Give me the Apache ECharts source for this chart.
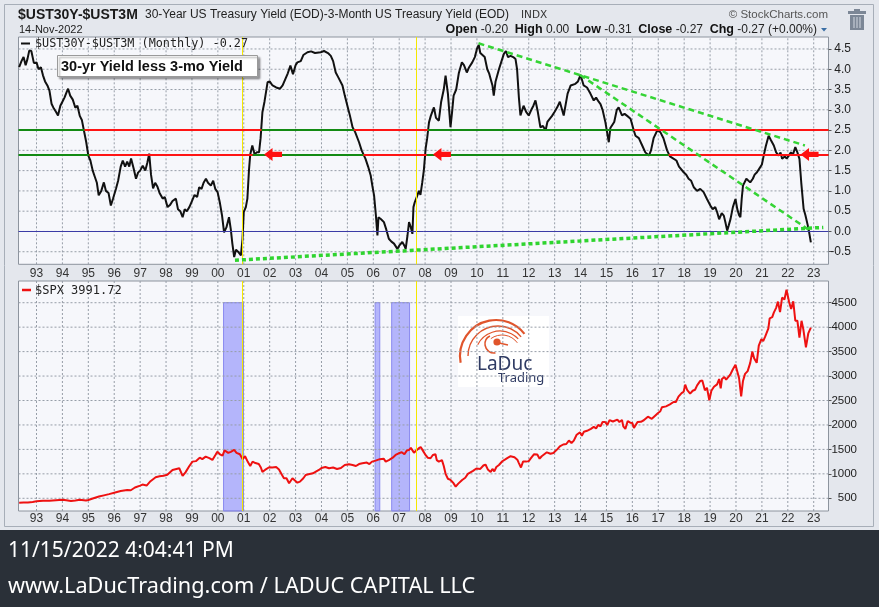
<!DOCTYPE html>
<html><head><meta charset="utf-8">
<script src="https://cdn.jsdelivr.net/npm/echarts@6/dist/echarts.min.js"></script>
<style>html,body{margin:0;padding:0;background:#e4e7ed;}#c{width:879px;height:607px;}</style>
</head><body><div id="c"></div>
<script>
// ---------------- data ----------------
const yearTicks = [1993,1994,1995,1996,1997,1998,1999,2000,2001,2002,2003,2004,2005,2006,2007,2008,2009,2010,2011,2012,2013,2014,2015,2016,2017,2018,2019,2020,2021,2022,2023];
const spreadTicks = [-0.5,0,0.5,1,1.5,2,2.5,3,3.5,4,4.5];
const spxTicks = [500,1000,1500,2000,2500,3000,3500,4000,4500];

const spreadDates = [1992.33,1992.42,1992.5,1992.58,1992.65,1992.72,1992.8,1992.9,1993.0,1993.08,1993.17,1993.25,1993.33,1993.42,1993.5,1993.58,1993.67,1993.75,1993.83,1993.92,
1994.0,1994.08,1994.17,1994.22,1994.3,1994.4,1994.5,1994.58,1994.67,1994.75,1994.83,1994.92,1995.0,1995.08,1995.17,1995.25,1995.33,1995.4,1995.5,1995.6,1995.68,1995.78,1995.87,1995.95,
1996.07,1996.15,1996.25,1996.33,1996.42,1996.5,1996.58,1996.65,1996.75,1996.84,1996.92,1997.0,1997.1,1997.2,1997.28,1997.35,1997.42,1997.5,1997.58,1997.67,1997.75,1997.87,1997.95,
1998.06,1998.15,1998.25,1998.38,1998.46,1998.55,1998.64,1998.72,1998.8,1998.9,1999.0,1999.1,1999.2,1999.28,1999.37,1999.45,1999.54,1999.62,1999.73,1999.82,1999.9,1999.99,
2000.08,2000.16,2000.24,2000.33,2000.43,2000.5,2000.56,2000.63,2000.7,2000.78,2000.89,2000.95,2001.0,2001.08,2001.14,2001.2,2001.25,2001.33,2001.42,2001.5,2001.59,2001.65,2001.72,2001.8,2001.92,
2002.0,2002.11,2002.25,2002.4,2002.5,2002.6,2002.7,2002.8,2002.9,2003.0,2003.07,2003.2,2003.3,2003.46,2003.6,2003.75,2003.97,2004.1,2004.25,2004.36,2004.45,2004.55,2004.65,2004.81,2004.9,
2005.0,2005.1,2005.2,2005.3,2005.45,2005.55,2005.7,2005.8,2005.9,2005.97,2006.03,2006.1,2006.16,2006.2,2006.3,2006.41,2006.5,2006.6,2006.7,2006.8,2006.93,2007.0,2007.12,2007.2,2007.25,
2007.32,2007.38,2007.45,2007.51,2007.55,2007.6,2007.68,2007.76,2007.82,2007.89,2007.95,2008.02,2008.08,2008.15,2008.22,2008.34,2008.42,2008.53,2008.62,2008.72,2008.79,2008.88,2008.98,
2009.05,2009.1,2009.2,2009.3,2009.42,2009.5,2009.61,2009.7,2009.82,2009.92,2010.0,2010.07,2010.13,2010.2,2010.3,2010.4,2010.47,2010.53,2010.6,2010.65,2010.72,2010.85,2010.95,
2011.04,2011.12,2011.2,2011.3,2011.4,2011.49,2011.55,2011.62,2011.68,2011.75,2011.8,2011.9,2012.0,2012.1,2012.18,2012.26,2012.35,2012.45,2012.55,2012.65,2012.72,2012.78,2012.9,
2013.0,2013.1,2013.2,2013.35,2013.5,2013.62,2013.8,2013.9,2014.0,2014.12,2014.25,2014.38,2014.51,2014.6,2014.7,2014.77,2014.85,2014.96,2015.09,2015.15,2015.22,2015.3,2015.4,2015.47,
2015.6,2015.7,2015.8,2015.93,2016.05,2016.12,2016.25,2016.38,2016.5,2016.64,2016.72,2016.82,2016.96,2017.08,2017.2,2017.34,2017.45,2017.6,2017.7,2017.8,2017.98,
2018.08,2018.17,2018.27,2018.37,2018.5,2018.62,2018.75,2018.88,2019.01,2019.1,2019.2,2019.27,2019.35,2019.45,2019.53,2019.6,2019.66,2019.72,2019.79,2019.88,2019.98,
2020.05,2020.12,2020.17,2020.22,2020.27,2020.4,2020.55,2020.65,2020.72,2020.81,2020.9,2021.0,2021.07,2021.15,2021.26,2021.35,2021.46,2021.55,2021.65,2021.72,2021.78,2021.88,2021.96,
2022.04,2022.12,2022.2,2022.29,2022.37,2022.45,2022.52,2022.61,2022.68,2022.74,2022.8,2022.89];
const spreadValues = [4.05,4.2,4.3,4.1,4.25,4.46,4.45,4.15,4.17,4.0,4.05,3.85,3.7,3.6,3.47,3.15,3.03,2.95,2.86,3.1,
3.2,3.3,3.45,3.52,3.35,3.25,3.05,3.1,2.85,2.75,2.49,2.2,1.87,1.75,1.5,1.35,1.2,0.89,1.0,1.21,1.0,0.95,0.64,0.8,
1.06,1.25,1.6,1.75,1.6,1.72,1.6,1.8,1.55,1.3,1.45,1.5,1.62,1.5,1.7,1.92,1.4,1.06,1.2,1.1,0.95,0.81,0.85,
0.6,0.65,0.75,0.81,0.55,0.5,0.35,0.55,0.5,0.6,0.75,0.9,0.85,1.09,1.05,1.2,1.3,1.2,1.13,1.25,1.05,0.97,
0.7,0.4,-0.02,0.1,0.35,0.05,-0.3,-0.63,-0.45,-0.5,-0.59,-0.2,0.48,0.6,0.81,1.5,1.9,2.12,1.9,1.95,1.95,2.3,2.94,3.2,3.68,
3.7,3.6,3.55,3.52,3.6,3.75,3.9,4.09,3.88,4.1,4.17,4.2,4.35,4.42,4.44,4.4,4.42,4.45,4.4,4.33,4.2,3.92,3.8,3.6,3.35,
3.1,2.85,2.57,2.45,2.2,2.0,1.79,1.6,1.38,1.1,0.89,0.4,-0.1,0.35,0.3,0.23,0.05,-0.18,-0.25,-0.3,-0.43,-0.35,-0.26,-0.35,-0.43,
-0.1,0.23,0.1,-0.06,0.6,0.72,0.85,1.0,0.9,1.21,1.5,2.04,2.3,2.69,2.85,3.06,2.8,2.73,3.2,3.5,3.84,3.4,2.57,
3.0,3.35,3.5,3.9,4.17,4.1,3.92,4.05,4.17,4.3,4.5,4.6,4.4,4.42,4.3,4.0,3.9,3.76,3.6,3.35,3.7,4.0,4.2,
4.38,4.45,4.3,4.33,4.3,4.25,4.0,3.3,2.86,3.0,3.1,2.95,2.86,3.0,3.1,3.23,2.95,2.57,2.6,2.49,2.7,2.69,2.85,
2.95,3.06,3.2,2.86,3.4,3.6,3.64,3.7,3.86,3.6,3.55,3.4,3.23,3.3,3.2,3.14,3.0,2.69,2.2,2.55,2.57,2.7,3.0,3.06,
2.86,2.9,2.85,2.78,2.5,2.36,2.3,2.12,1.95,1.87,2.0,2.3,2.49,2.45,2.3,2.0,1.85,1.79,1.75,1.6,1.46,
1.4,1.3,1.25,1.09,1.0,1.05,0.97,0.8,0.64,0.55,0.6,0.48,0.3,0.45,0.39,0.2,0.02,0.15,0.31,0.6,0.8,
0.55,0.4,0.35,0.8,1.13,1.3,1.21,1.3,1.4,1.46,1.55,1.65,1.87,2.1,2.36,2.25,2.12,1.95,1.87,1.95,1.79,1.85,1.8,
1.87,1.95,1.9,2.08,1.95,1.79,1.2,0.56,0.4,0.39,0.07,-0.27];

const spxDates = [1992.33,1992.5,1992.67,1992.85,1993.0,1993.25,1993.5,1993.75,1994.0,1994.15,1994.33,1994.5,1994.67,1994.91,1995.0,1995.2,1995.41,1995.6,1995.8,
1996.07,1996.25,1996.5,1996.64,1996.8,1997.0,1997.09,1997.25,1997.4,1997.6,1997.75,1997.9,1998.05,1998.25,1998.4,1998.51,1998.64,1998.75,1998.9,
1999.02,1999.15,1999.3,1999.4,1999.53,1999.67,1999.79,1999.9,1999.98,2000.08,2000.18,2000.26,2000.4,2000.5,2000.63,2000.72,2000.85,2000.96,
2001.05,2001.16,2001.25,2001.34,2001.45,2001.58,2001.66,2001.72,2001.82,2001.98,2002.1,2002.25,2002.36,2002.45,2002.55,2002.65,2002.75,2002.88,2002.95,
2003.07,2003.17,2003.3,2003.39,2003.5,2003.67,2003.8,2003.9,2004.0,2004.15,2004.29,2004.45,2004.6,2004.75,2004.9,2005.06,2005.2,2005.33,2005.45,2005.58,2005.75,2005.85,2005.95,
2006.09,2006.25,2006.4,2006.48,2006.6,2006.75,2006.86,2006.98,2007.1,2007.2,2007.3,2007.38,2007.45,2007.57,2007.65,2007.75,2007.83,2007.92,
2008.0,2008.1,2008.21,2008.3,2008.4,2008.45,2008.53,2008.65,2008.72,2008.79,2008.88,2008.98,2009.08,2009.18,2009.28,2009.43,2009.55,2009.65,2009.75,2009.85,2009.98,
2010.05,2010.13,2010.25,2010.33,2010.42,2010.53,2010.6,2010.67,2010.75,2010.85,2010.98,2011.08,2011.17,2011.3,2011.45,2011.56,2011.62,2011.7,2011.78,2011.9,
2012.0,2012.07,2012.2,2012.33,2012.42,2012.5,2012.6,2012.7,2012.84,2012.95,2013.1,2013.2,2013.33,2013.45,2013.55,2013.65,2013.74,2013.85,2013.98,
2014.05,2014.13,2014.25,2014.4,2014.51,2014.6,2014.68,2014.77,2014.85,2014.95,2015.03,2015.12,2015.25,2015.42,2015.5,2015.6,2015.65,2015.73,2015.82,2015.92,
2016.0,2016.06,2016.12,2016.2,2016.33,2016.44,2016.5,2016.6,2016.75,2016.82,2016.9,2016.98,2017.08,2017.14,2017.3,2017.45,2017.59,2017.68,2017.78,2017.9,2017.98,
2018.04,2018.12,2018.23,2018.33,2018.42,2018.5,2018.62,2018.7,2018.8,2018.88,2018.97,2019.05,2019.15,2019.27,2019.35,2019.41,2019.46,2019.55,2019.62,2019.7,2019.78,2019.88,2019.98,
2020.05,2020.12,2020.2,2020.27,2020.35,2020.45,2020.55,2020.63,2020.7,2020.8,2020.88,2020.98,2021.05,2021.13,2021.25,2021.3,2021.4,2021.46,2021.55,2021.62,2021.7,2021.78,2021.87,2021.95,
2022.05,2022.13,2022.21,2022.29,2022.37,2022.45,2022.53,2022.6,2022.7,2022.79,2022.89];
const spxValues = [410,415,415,425,438,450,450,460,470,460,445,455,470,455,465,500,535,560,585,
625,650,670,665,720,760,780,760,850,930,950,960,980,1080,1100,1114,960,1030,1160,
1250,1260,1330,1300,1352,1320,1284,1380,1454,1400,1372,1480,1430,1450,1489,1430,1400,1300,
1360,1240,1160,1250,1220,1200,1130,1040,1080,1135,1130,1140,1090,1000,910,910,808,910,880,
820,840,910,977,990,1010,1050,1080,1120,1140,1114,1130,1100,1120,1180,1196,1180,1160,1200,1217,1230,1200,1250,
1270,1300,1310,1250,1280,1330,1386,1420,1440,1400,1480,1489,1530,1434,1470,1520,1549,1470,
1400,1330,1319,1385,1400,1280,1250,1280,1160,1000,900,875,820,738,800,875,920,1000,1030,1060,1110,
1080,1100,1170,1190,1090,1040,1100,1050,1140,1180,1257,1290,1320,1360,1340,1290,1220,1130,1250,1250,
1260,1310,1400,1397,1310,1360,1400,1440,1410,1426,1500,1560,1600,1610,1680,1630,1680,1800,1848,
1780,1860,1880,1920,1960,1930,2000,1970,2060,2060,2000,2100,2070,2110,2060,2100,1970,1920,2080,2047,
2040,1940,1932,2060,2065,2096,2098,2170,2125,2127,2200,2240,2280,2360,2380,2420,2470,2470,2580,2650,2680,
2823,2710,2640,2700,2720,2810,2900,2910,2710,2760,2506,2700,2780,2830,2940,2750,2940,2980,2926,2976,3030,3140,3230,
3225,2954,2584,2900,3044,3100,3270,3500,3363,3270,3620,3756,3714,3811,3973,4181,4204,4297,4395,4522,4307,4605,4567,4766,
4515,4373,4530,4131,4132,3785,4130,3955,3585,3871,3992];

// annotation values
const levelValues = [2.5, 1.9];
const level25Red = [[1994.85, 2001.68], [2005.25, 2008.1], [2016.05, 2023.571]];
const level19Red = [[1995.04, 2001.34], [2005.62, 2008.06], [2017.4, 2023.571]];
const yellowDates = [2000.95, 2007.65];
const shadeRanges = [[2000.22, 2000.99], [2006.07, 2006.25], [2006.71, 2007.40]];
const shadeTop = 4500;
const trendLines = [[[2010.06, 4.64], [2022.66, 2.12]], [[2013.98, 3.86], [2022.86, 0.02]]];
const supportLine = [[2000.66, -0.71], [2023.37, 0.1]];
const arrowDates = [2002.13, 2008.65, 2022.84];
const arrowLevel = 1.9;

// ---------------- chart ----------------
const X_MIN = 1992.305, X_MAX = 2023.571;
const TOP_MIN = -0.81, TOP_MAX = 4.795;
const SPX_MIN = 240, SPX_MAX = 4944;

const chart = echarts.init(document.getElementById('c'));
const GRID_BG = '#f6f7fb', GRID_BORDER = '#8d949e';
const FONT = 'Liberation Sans';
const yr = v => String(Math.round(v) % 100).padStart(2, '0');

function xAxisFor(gi, margin) {
  return {
    type: 'value', gridIndex: gi, min: X_MIN, max: X_MAX,
    axisLine: {show: false},
    axisTick: {show: false, customValues: yearTicks},
    axisLabel: {customValues: yearTicks, formatter: yr, fontSize: 12, fontFamily: FONT, color: '#333', margin: margin},
    splitLine: {show: false}
  };
}
const noLabel = {show: false};
const segLine = (a, b, y, color, width) => [
  {coord: [a, y], lineStyle: {color: color, width: width, type: 'solid'}},
  {coord: [b, y]}
];
// grid lines drawn as plain two-point line series through the axes' scales
function gridSeries(ai, yTicks, yMin, yMax) {
  const base = {type: 'line', xAxisIndex: ai, yAxisIndex: ai, z: 1, silent: true, symbol: 'none', showSymbol: false,
                clip: false, lineStyle: {color: '#979ea8', width: 1, type: [2, 2]}, animation: false};
  return [
    ...yearTicks.map(t => Object.assign({}, base, {data: [[t, yMin], [t, yMax]]})),
    ...yTicks.map(t => Object.assign({}, base, {data: [[X_MIN, t], [X_MAX, t]]}))
  ];
}

const redSegs = [];
level25Red.forEach(s => redSegs.push(segLine(s[0], s[1], levelValues[0], '#ff1414', 2)));
level19Red.forEach(s => redSegs.push(segLine(s[0], s[1], levelValues[1], '#ff1414', 2)));

const option = {
  animation: false,
  backgroundColor: '#e4e7ed',
  grid: [
    {left: 18.5, right: 50.5, top: 37, height: 227.3, show: true, backgroundColor: GRID_BG, borderColor: GRID_BORDER, borderWidth: 1},
    {left: 18.5, right: 50.5, top: 281, height: 230, show: true, backgroundColor: GRID_BG, borderColor: GRID_BORDER, borderWidth: 1}
  ],
  xAxis: [xAxisFor(0, 3), xAxisFor(1, 2)],
  yAxis: [
    {type: 'value', gridIndex: 0, position: 'right', min: TOP_MIN, max: TOP_MAX,
     axisLine: {show: false},
     axisTick: {show: true, customValues: spreadTicks, length: 3, lineStyle: {color: '#555'}},
     axisLabel: {customValues: spreadTicks, formatter: v => v.toFixed(1), align: 'right', margin: 22.5, fontSize: 12, fontFamily: FONT, color: '#222'},
     splitLine: {show: false}},
    {type: 'value', gridIndex: 1, position: 'right', min: SPX_MIN, max: SPX_MAX,
     axisLine: {show: false},
     axisTick: {show: true, customValues: spxTicks, length: 3, lineStyle: {color: '#555'}},
     axisLabel: {customValues: spxTicks, formatter: v => String(v), align: 'right', margin: 28.5, fontSize: 11.5, fontFamily: FONT, color: '#222'},
     splitLine: {show: false}}
  ],
  series: [
    ...gridSeries(0, spreadTicks, TOP_MIN, TOP_MAX),
    ...gridSeries(1, spxTicks, SPX_MIN, SPX_MAX),
    // top panel: background annotations
    {type: 'line', xAxisIndex: 0, yAxisIndex: 0, data: [], z: 2, silent: true,
     markLine: {silent: true, symbol: ['none', 'none'], label: noLabel, animation: false,
       data: [
         {yAxis: 0, lineStyle: {color: '#3b3ba6', width: 1, type: 'solid'}},
         {yAxis: levelValues[0], lineStyle: {color: '#138a13', width: 2, type: 'solid'}},
         {yAxis: levelValues[1], lineStyle: {color: '#138a13', width: 2, type: 'solid'}},
         ...yellowDates.map(d => ({xAxis: d, lineStyle: {color: '#f5e800', width: 1, type: 'solid'}}))
       ]}},
    {type: 'line', xAxisIndex: 0, yAxisIndex: 0, data: [], z: 3, silent: true,
     markLine: {silent: true, symbol: ['none', 'none'], label: noLabel, animation: false, data: redSegs}},
    // main spread line
    {name: '$UST30Y-$UST3M', type: 'line', xAxisIndex: 0, yAxisIndex: 0, z: 4,
     data: spreadDates.map((d, i) => [d, spreadValues[i]]),
     showSymbol: false, symbol: 'none', lineStyle: {color: '#111', width: 2}},
    // trend lines + arrows
    {type: 'line', xAxisIndex: 0, yAxisIndex: 0, data: [], z: 5, silent: true,
     markLine: {silent: true, symbol: ['none', 'none'], label: noLabel, animation: false,
       data: [
         ...trendLines.map(t => [{coord: t[0], lineStyle: {color: '#35d435', width: 2.5, type: [6, 4]}}, {coord: t[1]}]),
         [{coord: supportLine[0], lineStyle: {color: '#2fd42f', width: 3.5, type: [4, 3]}}, {coord: supportLine[1]}]
       ]},
     markPoint: {silent: true, animation: false, label: noLabel,
       symbol: 'path://M0,6 L8,0 L8,3.5 L17,3.5 L17,8.5 L8,8.5 L8,12 Z', symbolSize: [18, 13],
       itemStyle: {color: '#ff1010'},
       data: arrowDates.map(d => ({coord: [d, arrowLevel]}))}},
    // lower panel
    {type: 'line', xAxisIndex: 1, yAxisIndex: 1, data: [], z: 2, silent: true,
     markLine: {silent: true, symbol: ['none', 'none'], label: noLabel, animation: false,
       data: yellowDates.map(d => ({xAxis: d, lineStyle: {color: '#f5e800', width: 1, type: 'solid'}}))}},
    {name: '$SPX', type: 'line', xAxisIndex: 1, yAxisIndex: 1, z: 3,
     data: spxDates.map((d, i) => [d, spxValues[i]]),
     showSymbol: false, symbol: 'none', lineStyle: {color: '#ee1111', width: 2}},
    {type: 'line', xAxisIndex: 1, yAxisIndex: 1, data: [], z: 6, silent: true,
     markArea: {silent: true, animation: false, label: noLabel,
       itemStyle: {color: 'rgba(100,100,250,0.45)', borderColor: '#8a8af0', borderWidth: 1},
       data: shadeRanges.map(r => [{coord: [r[0], shadeTop]}, {coord: [r[1], SPX_MIN]}])}}
  ],
  graphic: [
    {type: 'rect', z: 50, shape: {x: 0, y: 530, width: 879, height: 77}, style: {fill: '#2a3038'}},
    {type: 'rect', z: 50, shape: {x: 4.5, y: 4.5, width: 869, height: 522}, style: {fill: 'none', stroke: '#a7aeb8', lineWidth: 1}},
    {type: 'text', z: 60, x: 8, y: 551, style: {text: '11/15/2022 4:04:41 PM', fontSize: 21, fontFamily: 'Noto Sans', fill: '#ffffff', verticalAlign: 'middle'}},
    {type: 'text', z: 60, x: 8, y: 587, style: {text: 'www.LaDucTrading.com / LADUC CAPITAL LLC', fontSize: 21.7, fontFamily: 'Noto Sans', fill: '#ffffff', verticalAlign: 'middle'}},
    // header
    {type: 'text', z: 60, x: 18, y: 15, style: {text: '$UST30Y-$UST3M', fontSize: 14, fontWeight: 'bold', fontFamily: FONT, fill: '#1a1a1a', verticalAlign: 'middle'}},
    {type: 'text', z: 60, x: 145, y: 15, style: {text: '30-Year US Treasury Yield (EOD)-3-Month US Treasury Yield (EOD)', fontSize: 12, fontFamily: FONT, fill: '#222', verticalAlign: 'middle'}},
    {type: 'text', z: 60, x: 521, y: 15.5, style: {text: 'INDX', fontSize: 10.5, fontFamily: 'DejaVu Sans', fill: '#333', verticalAlign: 'middle'}},
    {type: 'text', z: 60, x: 19, y: 29.5, style: {text: '14-Nov-2022', fontSize: 11, fontFamily: FONT, fill: '#222', verticalAlign: 'middle'}},
    {type: 'text', z: 60, x: 828, y: 15, style: {text: '© StockCharts.com', fontSize: 11.5, fontFamily: FONT, fill: '#555', align: 'right', verticalAlign: 'middle'}},
    {type: 'text', z: 60, x: 817, y: 30, style: {
      text: '{b|Open} {v|-0.20}  {b|High} {v|0.00}  {b|Low} {v|-0.31}  {b|Close} {v|-0.27}  {b|Chg} {v|-0.27 (+0.00%)}',
      align: 'right', verticalAlign: 'middle',
      rich: {b: {fontSize: 12.5, fontWeight: 'bold', fontFamily: FONT, fill: '#111'}, v: {fontSize: 12, fontFamily: FONT, fill: '#222'}}}},
    {type: 'polygon', z: 60, shape: {points: [[821, 28], [827, 28], [824, 31.5]]}, style: {fill: '#3a6ea5'}},
    // trash icon
    {type: 'group', z: 60, x: 848, y: 9, children: [
      {type: 'rect', shape: {x: 0, y: 2, width: 18, height: 3}, style: {fill: '#7c8796'}},
      {type: 'rect', shape: {x: 6, y: 0, width: 6, height: 3}, style: {fill: '#7c8796'}},
      {type: 'rect', shape: {x: 2, y: 6, width: 14, height: 15}, style: {fill: '#7c8796'}},
      {type: 'line', shape: {x1: 6, y1: 8, x2: 6, y2: 19}, style: {stroke: '#c5ccd6', lineWidth: 1.2}},
      {type: 'line', shape: {x1: 9, y1: 8, x2: 9, y2: 19}, style: {stroke: '#c5ccd6', lineWidth: 1.2}},
      {type: 'line', shape: {x1: 12, y1: 8, x2: 12, y2: 19}, style: {stroke: '#c5ccd6', lineWidth: 1.2}}
    ]},
    // legends
    {type: 'line', z: 60, shape: {x1: 21, y1: 43.5, x2: 30, y2: 43.5}, style: {stroke: '#111', lineWidth: 2}},
    {type: 'text', z: 60, x: 35, y: 44, style: {text: '$UST30Y-$UST3M (Monthly) -0.27', fontSize: 11.8, fontFamily: 'DejaVu Sans Mono', fill: '#222', verticalAlign: 'middle'}},
    {type: 'line', z: 60, shape: {x1: 22, y1: 290, x2: 31, y2: 290}, style: {stroke: '#ee1111', lineWidth: 2.5}},
    {type: 'text', z: 60, x: 35, y: 290.5, style: {text: '$SPX 3991.72', fontSize: 12, fontFamily: 'DejaVu Sans Mono', fill: '#222', verticalAlign: 'middle'}},
    // annotation box
    {type: 'rect', z: 60, shape: {x: 57.5, y: 55.5, width: 200, height: 21}, style: {fill: '#ffffff', stroke: '#9a9a9a', lineWidth: 1, shadowColor: 'rgba(0,0,0,0.35)', shadowBlur: 2, shadowOffsetX: 2, shadowOffsetY: 2}},
    {type: 'text', z: 61, x: 61, y: 66.5, style: {text: '30-yr Yield less 3-mo Yield', fontSize: 14.5, fontWeight: 'bold', fontFamily: FONT, fill: '#111', verticalAlign: 'middle'}},
    // logo
    {type: 'group', z: 60, x: 458, y: 316, children: [
      {type: 'rect', shape: {x: 0, y: 0, width: 91, height: 71}, style: {fill: '#ffffff'}},
      {type: 'arc', shape: {cx: 38, cy: 40, r: 36, startAngle: Math.PI * 0.94, endAngle: Math.PI * 1.79, clockwise: true}, style: {stroke: '#e0552c', fill: 'none', lineWidth: 2.2}},
      {type: 'arc', shape: {cx: 40, cy: 40, r: 30, startAngle: Math.PI * 1.0, endAngle: Math.PI * 1.78, clockwise: true}, style: {stroke: '#e0552c', fill: 'none', lineWidth: 1.4}},
      {type: 'arc', shape: {cx: 42, cy: 40, r: 25, startAngle: Math.PI * 1.15, endAngle: Math.PI * 1.76, clockwise: true}, style: {stroke: '#e0552c', fill: 'none', lineWidth: 1.2}},
      {type: 'arc', shape: {cx: 44, cy: 38, r: 19, startAngle: Math.PI * 1.3, endAngle: Math.PI * 1.8, clockwise: true}, style: {stroke: '#e0552c', fill: 'none', lineWidth: 1}},
      {type: 'arc', shape: {cx: 36, cy: 28, r: 9, startAngle: Math.PI * 0.45, endAngle: Math.PI * 1.35, clockwise: true}, style: {stroke: '#e0552c', fill: 'none', lineWidth: 1.6}},
      {type: 'circle', shape: {cx: 39, cy: 26, r: 3.6}, style: {fill: '#e0552c'}},
      {type: 'line', shape: {x1: 41, y1: 27, x2: 50, y2: 29}, style: {stroke: '#e0552c', lineWidth: 1.4}},
      {type: 'text', x: 19, y: 49, style: {text: 'LaDuc', fontSize: 19, fontFamily: 'Noto Sans', fill: '#2f3b63', verticalAlign: 'middle'}},
      {type: 'text', x: 40, y: 62, style: {text: 'Trading', fontSize: 13, fontFamily: 'Noto Sans', fill: '#2f3b63', verticalAlign: 'middle'}}
    ]}
  ]
};
chart.setOption(option);
</script></body></html>
